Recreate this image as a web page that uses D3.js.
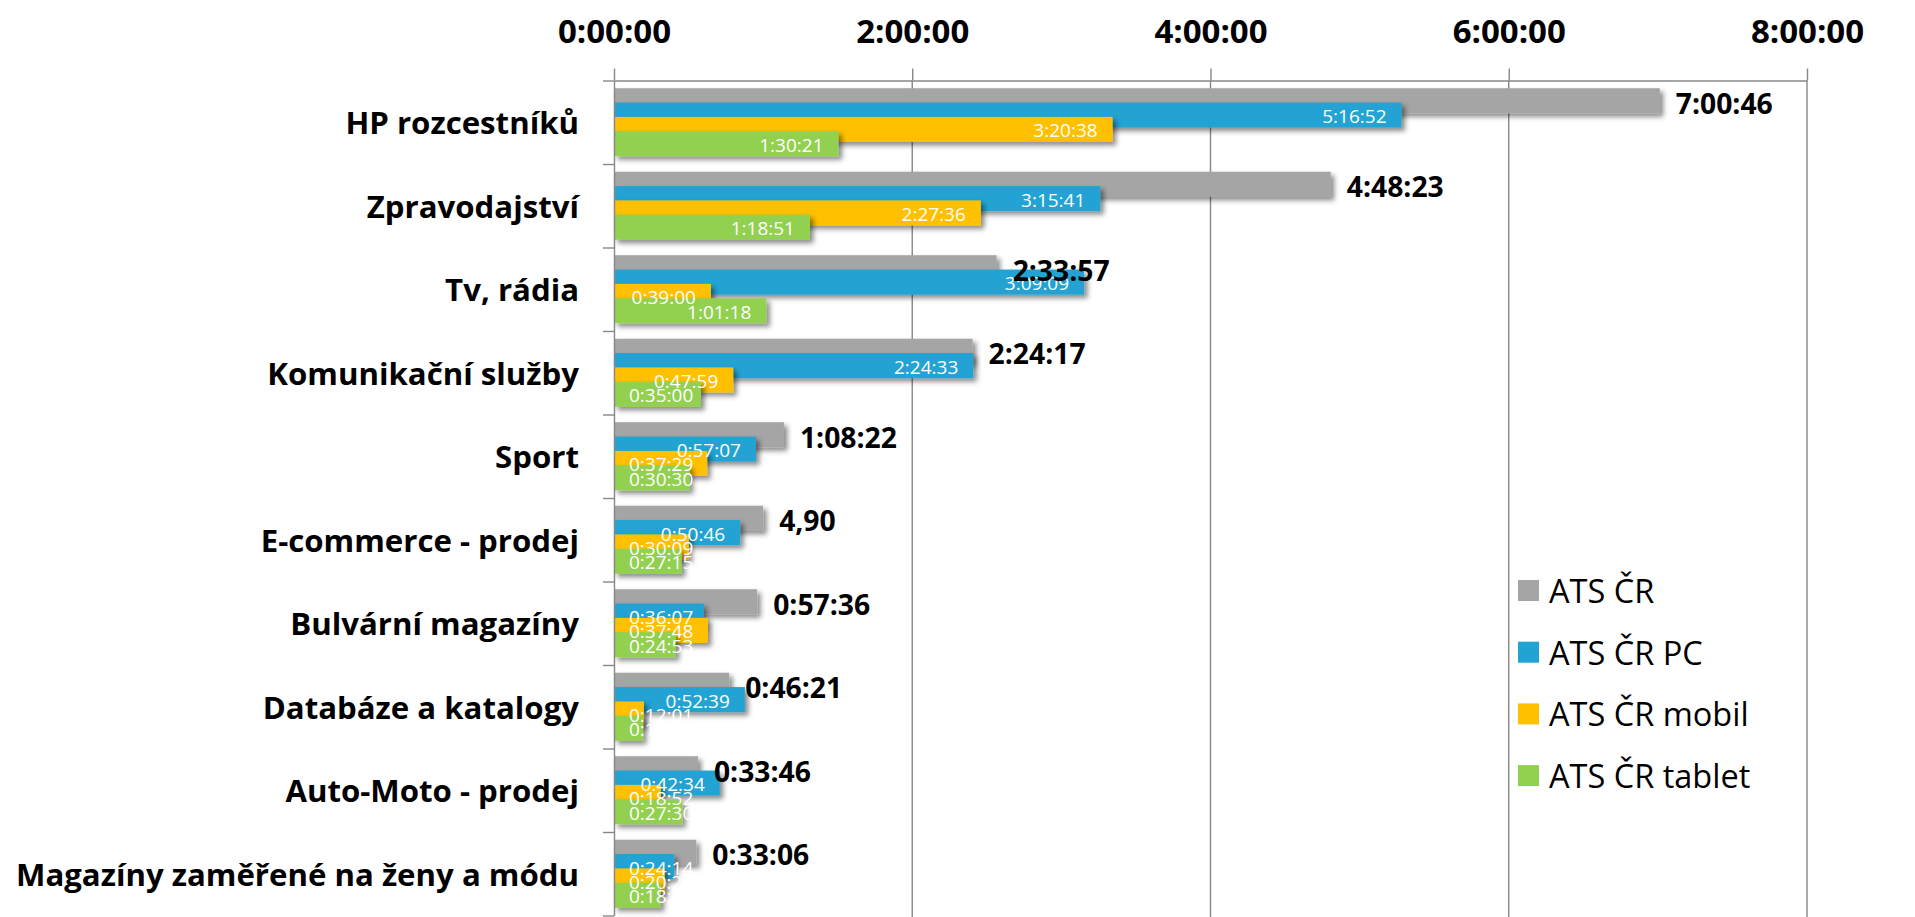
<!DOCTYPE html>
<html><head><meta charset="utf-8">
<script src="https://cdn.jsdelivr.net/npm/d3@7"></script>
<style>body{margin:0;background:#fff;} svg{display:block}</style>
</head><body>
<svg id="chart" width="1915" height="917"></svg>
<script>
const categories = ["HP rozcestníků","Zpravodajství","Tv, rádia","Komunikační služby","Sport","E-commerce - prodej","Bulvární magazíny","Databáze a katalogy","Auto-Moto - prodej","Magazíny zaměřené na ženy a módu"];
const seriesNames = ["ATS ČR","ATS ČR PC","ATS ČR mobil","ATS ČR tablet"];
const atsCR = ["7:00:46","4:48:23","2:33:57","2:24:17","1:08:22","1:00:00","0:57:36","0:46:21","0:33:46","0:33:06"];
const atsCRLabels = ["7:00:46","4:48:23","2:33:57","2:24:17","1:08:22","4,90","0:57:36","0:46:21","0:33:46","0:33:06"];
const atsPC = ["5:16:52","3:15:41","3:09:09","2:24:33","0:57:07","0:50:46","0:36:07","0:52:39","0:42:34","0:24:14"];
const atsMobil = ["3:20:38","2:27:36","0:39:00","0:47:59","0:37:29","0:30:09","0:37:48","0:12:01","0:18:52","0:20:25"];
const atsTablet = ["1:30:21","1:18:51","1:01:18","0:35:00","0:30:30","0:27:15","0:24:53","0:11:42","0:27:30","0:18:53"];
const tickLabels = ["0:00:00","2:00:00","4:00:00","6:00:00","8:00:00"];
const colors = ["#A5A5A5","#21A3D3","#FFC000","#92D050"];

const toSec = s => { const p = s.split(":").map(Number); return p[0]*3600 + p[1]*60 + p[2]; };
const seriesVals = [atsCR, atsPC, atsMobil, atsTablet];
const seriesLabels = [atsCRLabels, atsPC, atsMobil, atsTablet];
const tickVals = tickLabels.map(toSec);

const svg = d3.select("#chart");
const pLeft = 614, pRight = 1807, pTop = 80.5, pBottom = 915.5;
const x = d3.scaleLinear().domain([0, d3.max(tickVals)]).range([pLeft, pRight]);
const y = d3.scaleBand().domain(categories).range([pTop, pBottom]);
const bw = y.bandwidth();
const barH = bw * 0.30, step = bw * 0.1716;
const groupOff = (bw - (3 * step + barH)) / 2;
const axisColor = "#878787";
const font = "'Open Sans', 'Noto Sans', sans-serif";

const defs = svg.append("defs");
const f = defs.append("filter").attr("id","sh").attr("filterUnits","userSpaceOnUse")
  .attr("x",0).attr("y",0).attr("width",1915).attr("height",917);
f.append("feDropShadow").attr("dx",3.5).attr("dy",3.5).attr("stdDeviation",2.6)
  .attr("flood-color","#000").attr("flood-opacity",0.45);

// gridlines
svg.append("g").selectAll("line").data(tickVals.slice(1)).join("line")
  .attr("x1", d => x(d)).attr("x2", d => x(d)).attr("y1", pTop).attr("y2", 917)
  .attr("stroke", axisColor).attr("stroke-width", 1.4);

// bars
const barsG = svg.append("g");
seriesVals.forEach((vals, si) => {
  barsG.append("g").attr("filter","url(#sh)").selectAll("rect").data(categories).join("rect")
    .attr("x", x(0))
    .attr("y", c => y(c) + groupOff + si * step)
    .attr("width", (c, i) => x(toSec(vals[i])) - x(0))
    .attr("height", barH)
    .attr("fill", colors[si]);
});

// top axis
const xAxis = svg.append("g").attr("transform", `translate(0,${pTop})`)
  .call(d3.axisTop(x).tickValues(tickVals).tickFormat((d, i) => tickLabels[i]).tickSizeInner(12).tickSizeOuter(0).tickPadding(0));
xAxis.select(".domain").attr("stroke", axisColor).attr("stroke-width", 1.4);
xAxis.selectAll(".tick line").attr("stroke", axisColor).attr("stroke-width", 1.4);
xAxis.selectAll(".tick text").attr("y", 43 - pTop).attr("dy", null)
  .attr("font-family", font).attr("font-weight", "bold").attr("font-size", 33).attr("fill", "#000");

// left axis: line + boundary ticks
const yIdx = d3.scaleLinear().domain([0, categories.length]).range([pTop, pBottom]);
const yAxis = svg.append("g").attr("transform", `translate(${pLeft},0)`)
  .call(d3.axisLeft(yIdx).ticks(categories.length).tickFormat("").tickSizeInner(11).tickSizeOuter(0));
yAxis.select(".domain").attr("stroke", axisColor).attr("stroke-width", 1.4);
yAxis.selectAll(".tick line").attr("stroke", axisColor).attr("stroke-width", 1.4);

// category labels
svg.append("g").selectAll("text").data(categories).join("text")
  .attr("x", 579).attr("y", c => y(c) + bw / 2)
  .attr("text-anchor", "end").attr("dominant-baseline", "central")
  .attr("font-family", font).attr("font-weight", "bold").attr("font-size", 31.2).attr("fill", "#000")
  .text(c => c);

// inner labels (PC, mobil, tablet)
const labG = svg.append("g");
[1, 2, 3].forEach(si => {
  labG.append("g").selectAll("text").data(categories).join("text")
    .attr("y", c => y(c) + groupOff + si * step + barH / 2 + 1)
    .attr("dominant-baseline", "central")
    .attr("font-family", font).attr("font-size", 19).attr("fill", "#fff")
    .text((c, i) => seriesLabels[si][i])
    .each(function(c, i) {
      const w = this.getComputedTextLength();
      const end = x(toSec(seriesVals[si][i]));
      this.setAttribute("x", Math.max(end - 15 - w, pLeft + 15));
    });
});
// gray value labels
labG.append("g").selectAll("text").data(categories).join("text")
  .attr("x", (c, i) => x(toSec(atsCR[i])) + 16)
  .attr("y", c => y(c) + groupOff + barH / 2 + 2)
  .attr("dominant-baseline", "central")
  .attr("font-family", font).attr("font-weight", "bold").attr("font-size", 28.3).attr("fill", "#000")
  .text((c, i) => atsCRLabels[i]);

// legend
const lg = svg.append("g").attr("transform", "translate(1518,580)");
const li = lg.selectAll("g").data(seriesNames).join("g").attr("transform", (d, i) => `translate(0,${i * 61.7})`);
li.append("rect").attr("width", 21).attr("height", 21).attr("fill", (d, i) => colors[i]);
li.append("text").attr("x", 31).attr("y", 10.5).attr("dominant-baseline", "central")
  .attr("font-family", font).attr("font-size", 32.5).attr("fill", "#000").text(d => d);
</script>
</body></html>
